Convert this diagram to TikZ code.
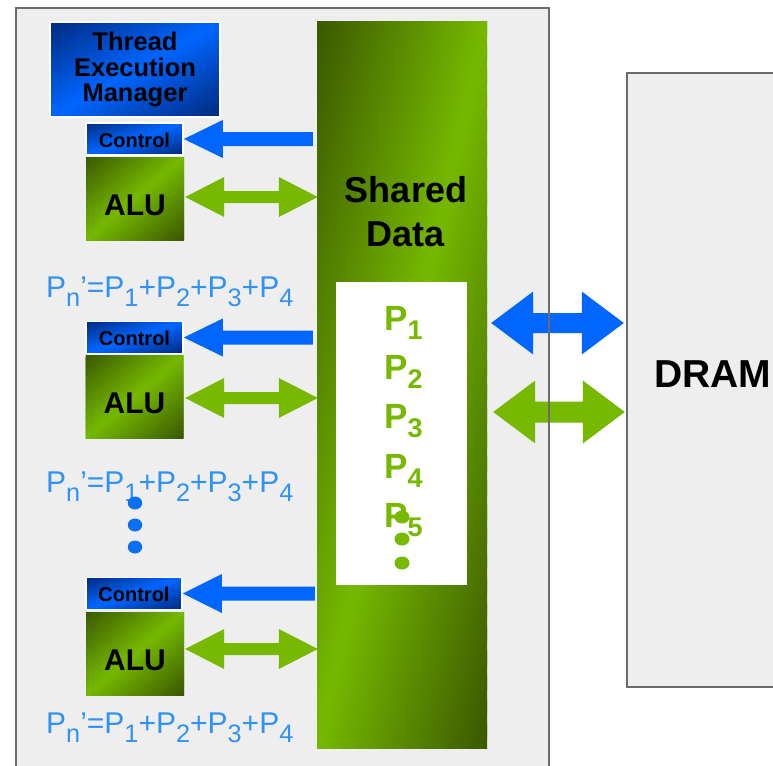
\documentclass[tikz,border=0pt]{standalone}
\usepackage{fontspec}
\setmainfont{Liberation Sans}
\usetikzlibrary{calc}
\definecolor{nvgreen}{HTML}{76B900}
\definecolor{nvdark}{HTML}{3A5800}
\definecolor{brblue}{HTML}{0066FF}
\definecolor{tnavy}{HTML}{002A7F}
\definecolor{fblue}{HTML}{3092F2}
\definecolor{dblue}{HTML}{0A6FF0}
\definecolor{panel}{HTML}{EEEEEE}
\definecolor{framegray}{HTML}{6B6B6B}

% diagonal gradient: dark at top-left and bottom-right corners, bright along the anti-diagonal
\newcommand{\gradrect}[6]{%
  \pgfmathsetmacro\gw{#3-#1}%
  \pgfmathsetmacro\gh{#4-#2}%
  \begin{scope}
    \clip (#1,#2) rectangle (#3,#4);
    \begin{scope}[shift={(#1,#2)}, xscale=\gw, yscale=\gh]
      \foreach \k in {0,...,59}{%
        \pgfmathsetmacro\ga{\k/30}%
        \pgfmathsetmacro\gb{(\k+1)/30+0.02}%
        \pgfmathsetmacro\gp{100*(1-abs((\k+0.5)/30-1))}%
        \fill[#6!\gp!#5] (\ga+2,-2) -- (\ga-2,2) -- (\gb-2,2) -- (\gb+2,-2) -- cycle;
      }
    \end{scope}
  \end{scope}}

% left-pointing fat arrow: style, tip, tail, head length, head half width, shaft half width
\newcommand{\fatleft}[6]{%
  \fill[#1] (#2) -- ($(#2)+(#4,-#5)$) -- ($(#2)+(#4,-#6)$) -- ($(#3)+(0,-#6)$)
    -- ($(#3)+(0,#6)$) -- ($(#2)+(#4,#6)$) -- ($(#2)+(#4,#5)$) -- cycle;}
% double-headed fat arrow: style, left tip, right tip, head length, head half width, shaft half width
\newcommand{\fatboth}[6]{%
  \fill[#1] (#2) -- ($(#2)+(#4,-#5)$) -- ($(#2)+(#4,-#6)$) -- ($(#3)+(-#4,-#6)$)
    -- ($(#3)+(-#4,-#5)$) -- (#3) -- ($(#3)+(-#4,#5)$) -- ($(#3)+(-#4,#6)$)
    -- ($(#2)+(#4,#6)$) -- ($(#2)+(#4,#5)$) -- cycle;}

\newcommand{\fsub}[1]{\raisebox{-9pt}{\fontsize{25.3}{25.3}\selectfont #1}}
\newcommand{\psub}[1]{\raisebox{-9pt}{\fontsize{27}{27}\selectfont #1}}

\tikzset{
  ctrlbox/.style={rectangle, draw=white, line width=1.6pt, minimum width=97pt,
    minimum height=32pt, inner sep=0pt, text height=16.5pt, text depth=0pt,
    font=\fontsize{20}{20}\selectfont\bfseries},
  alubox/.style={rectangle, minimum width=98pt, minimum height=83pt, inner sep=0pt,
    text height=33pt, text depth=0pt, font=\fontsize{30}{30}\selectfont\bfseries},
  tembox/.style={rectangle, draw=white, line width=1.6pt, minimum width=170pt,
    minimum height=95pt, inner sep=0pt, align=center,
    font=\fontsize{25.5}{25.5}\selectfont\bfseries},
  formula/.style={anchor=base west, inner sep=0pt, text=fblue,
    font=\fontsize{30}{30}\selectfont},
  plabel/.style={anchor=base west, inner sep=0pt, text=nvgreen,
    font=\fontsize{35}{35}\selectfont\bfseries},
  bigtext/.style={inner sep=0pt, align=center,
    font=\fontsize{36}{44}\selectfont\bfseries},
}

\begin{document}
\begin{tikzpicture}[x=1pt, y=-1pt]
\useasboundingbox (0,0) rectangle (773,765);
\clip (0,0) rectangle (773,765);
\fill[white] (0,0) rectangle (773,765);

% outer panel
\fill[panel] (16,8) rectangle (549,800);

% DRAM
\node[rectangle, fill=panel, draw=framegray, line width=2.4pt, minimum width=171pt,
  minimum height=614pt, inner sep=0pt, text height=29pt, text depth=15pt,
  font=\fontsize{39}{39}\selectfont\bfseries] (dram) at (712.5,380) {DRAM};

% shared data column
\gradrect{317}{22}{487}{748}{nvdark}{nvgreen}
\node[rectangle, minimum width=170pt, minimum height=726pt, inner sep=0pt] (shared) at (402,385) {};
\node[bigtext] (sdtext) at ($(shared.north)+(4,190)$) {Shared\\Data};
\node[rectangle, fill=white, minimum width=131pt, minimum height=303pt, inner sep=0pt] (pbox) at (401.5,433.5) {};

% thread execution manager
\gradrect{50}{22}{220}{117}{tnavy}{brblue}
\node[tembox] (tem) at (135,69.5) {Thread\\Execution\\Manager};

% control / ALU units
\gradrect{86}{123}{183}{155}{tnavy}{brblue}
\node[ctrlbox] (ctrl1) at (134.5,139) {Control};
\gradrect{86}{157}{184}{240}{nvdark}{nvgreen}
\node[alubox] (alu1) at (135,198.5) {ALU};

\gradrect{86}{321.5}{183}{353.5}{tnavy}{brblue}
\node[ctrlbox] (ctrl2) at (134.5,337.5) {Control};
\gradrect{85.5}{355.5}{183.5}{438.5}{nvdark}{nvgreen}
\node[alubox] (alu2) at (134.5,397) {ALU};

\gradrect{86}{577.5}{182}{609.5}{tnavy}{brblue}
\node[ctrlbox, minimum width=96pt] (ctrl3) at (134,593.5) {Control};
\gradrect{86}{612}{184}{695}{nvdark}{nvgreen}
\node[alubox] (alu3) at (135,653.5) {ALU};

% arrows between units and shared data
\coordinate (c1t) at ($(shared.west |- ctrl1.east)+(-4,0)$);
\fatleft{brblue}{ctrl1.east}{c1t}{39}{19}{7}
\coordinate (c2t) at ($(shared.west |- ctrl2.east)+(-4,0)$);
\fatleft{brblue}{ctrl2.east}{c2t}{39}{19}{7}
\coordinate (c3t) at ($(shared.west |- ctrl3.east)+(-2,0)$);
\fatleft{brblue}{ctrl3.east}{c3t}{39}{19.5}{7}

\coordinate (a1l) at ($(alu1.east)+(1,-1.5)$);
\coordinate (a1r) at ($(shared.west |- a1l)+(1,0)$);
\fatboth{nvgreen}{a1l}{a1r}{39}{20}{6}
\coordinate (a2l) at ($(alu2.east)+(1.5,1)$);
\coordinate (a2r) at ($(shared.west |- a2l)+(1,0)$);
\fatboth{nvgreen}{a2l}{a2r}{39}{20}{6}
\coordinate (a3l) at ($(alu3.east)+(1,-4.5)$);
\coordinate (a3r) at ($(shared.west |- a3l)+(1,0)$);
\fatboth{nvgreen}{a3l}{a3r}{39}{20}{6}

% arrows between shared data and DRAM
\coordinate (busb) at (0,323);
\coordinate (busg) at (0,412);
\coordinate (bl) at ($(shared.east |- busb)+(4,0)$);
\coordinate (br) at ($(dram.west |- busb)+(-2,0)$);
\fatboth{brblue}{bl}{br}{42}{31.5}{10}
\coordinate (gl) at ($(shared.east |- busg)+(6,0)$);
\coordinate (gr) at ($(dram.west |- busg)+(-1,0)$);
\fatboth{nvgreen}{gl}{gr}{42}{31.5}{10.5}

% outer panel frame (drawn over the DRAM arrows)
\draw[framegray, line width=2.2pt] (16,800) -- (16,8) -- (549,8) -- (549,800);

% formulas
\node[formula] (f1) at (46,297) {P\fsub{n}'=P\fsub{1}+P\fsub{2}+P\fsub{3}+P\fsub{4}};
\node[formula] (f2) at (46,492) {P\fsub{n}'=P\fsub{1}+P\fsub{2}+P\fsub{3}+P\fsub{4}};
\node[formula] (f3) at (46,733) {P\fsub{n}'=P\fsub{1}+P\fsub{2}+P\fsub{3}+P\fsub{4}};

% blue dots
\fill[dblue] (135,503) ellipse [x radius=7.2pt, y radius=6.5pt];
\fill[dblue] (135,525) ellipse [x radius=7.2pt, y radius=6.5pt];
\fill[dblue] (135,547) ellipse [x radius=7.2pt, y radius=6.5pt];

% shared data items
\node[plabel] (p1) at (384,330) {P\psub{1}};
\node[plabel] (p2) at (384,379) {P\psub{2}};
\node[plabel] (p3) at (384,428) {P\psub{3}};
\node[plabel] (p4) at (384,478) {P\psub{4}};
\node[plabel] (p5) at (384,527) {P\psub{5}};

% green dots
\fill[nvgreen] (402,517) ellipse [x radius=7.5pt, y radius=6.5pt];
\fill[nvgreen] (402,539) ellipse [x radius=7.5pt, y radius=6.5pt];
\fill[nvgreen] (402,563) ellipse [x radius=7.5pt, y radius=6.5pt];
\end{tikzpicture}
\end{document}
